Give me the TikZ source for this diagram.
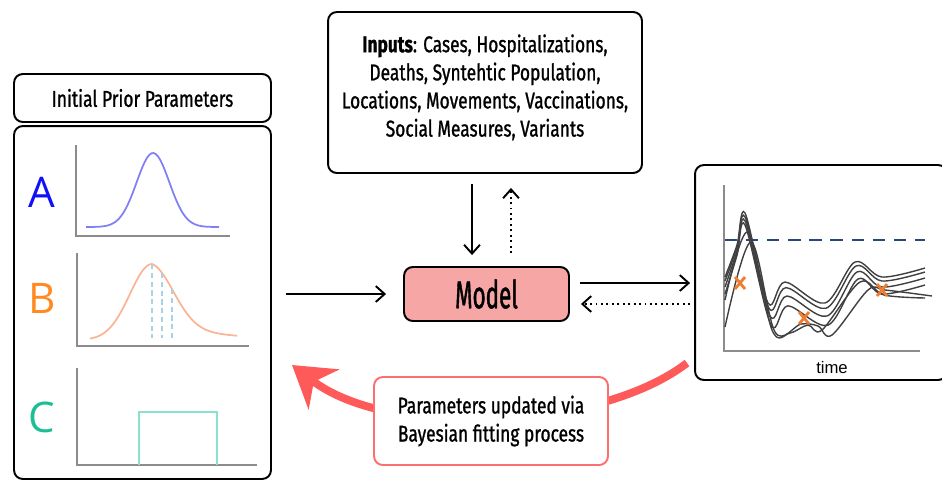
\documentclass[tikz,border=0pt]{standalone}
\usepackage{fontspec}
\setmainfont[FakeStretch=0.76,FakeBold=1]{Fira Sans}
\newfontfamily\modelfont[FakeStretch=0.58,FakeBold=1]{Fira Sans}
\newfontfamily\letterfont{Open Sans}
\newfontfamily\plotfont{Liberation Sans}
\usetikzlibrary{calc,arrows.meta}

\definecolor{distA}{HTML}{1010FA}
\definecolor{curveA}{HTML}{8080F6}
\definecolor{distB}{HTML}{FF8A22}
\definecolor{curveB}{HTML}{FAB597}
\definecolor{markB}{HTML}{A6D4E4}
\definecolor{distC}{HTML}{1CBF94}
\definecolor{curveC}{HTML}{88E2CC}
\definecolor{modelfill}{HTML}{F7A6A6}
\definecolor{fitred}{HTML}{FF5A5A}
\definecolor{fitborder}{HTML}{FF6E6E}
\definecolor{obscross}{HTML}{F07D2E}
\definecolor{threshold}{HTML}{27477F}
\definecolor{axisgray}{HTML}{8C8C8C}

\begin{document}
\begin{tikzpicture}[x=0.02cm,y=-0.02cm,
  box/.style={draw=black,line width=1.1pt,rounded corners=5pt,inner sep=0pt,align=center},
  axis/.style={axisgray,line width=0.9pt},
  flow/.style={line width=1.1pt,->,>={Straight Barb[length=5pt,width=9pt]}},
  back/.style={flow,dotted},
  letter/.style={font=\letterfont\fontsize{24}{28}\selectfont}]
  \useasboundingbox (0,0) rectangle (942,481);

  % priors
  \node[box,minimum width=5.14cm,minimum height=0.96cm,font=\fontsize{13}{16}\selectfont] (title) at (142.5,98) {Initial Prior Parameters};
  \node[box,minimum width=5.14cm,minimum height=7.06cm] (priors) at (142.5,302.5) {};

  \node[letter,distA] (A) at (42,192) {A};
  \draw[axis] (76,145) -- (76,236) -- (230,236);
  \draw[curveA,line width=1pt] plot[domain=86:219,samples=60] (\x,{227-74*exp(-((\x-153)/16.3)^2/2)});

  \node[letter,distB] (B) at (42,298) {B};
  \draw[axis] (77,253) -- (77,346) -- (249,346);
  \draw[curveB,line width=1pt] plot[domain=90:152,samples=40] (\x,{340-76*exp(-((\x-152)/22)^2/2)})
    -- plot[domain=152:237,samples=50] (\x,{340-56*exp(-((\x-152)/22)^2/2)-20*exp(-(\x-152)/55)});
  \foreach \xm/\ym in {152/264,162/273,172/289}
    \draw[markB,densely dashed,line width=0.6pt] (\xm,\ym) -- (\xm,338);

  \node[letter,distC] (C) at (42,417) {C};
  \draw[axis] (77,368) -- (77,465) -- (257,465);
  \draw[curveC,line width=1pt] (139,465) -- (139,412) -- (217,412) -- (217,465);

  % inputs and model
  \node[box,minimum width=6.28cm,minimum height=3.22cm,font=\fontsize{13}{16}\selectfont] (inputs) at (485,92.5)
    {\textbf{Inputs}: Cases, Hospitalizations,\\Deaths, Syntehtic Population,\\Locations, Movements, Vaccinations,\\Social Measures, Variants\\[-8pt]\mbox{}};
  \node[box,fill=modelfill,minimum width=3.3cm,minimum height=1.08cm,font=\modelfont\fontsize{22}{24}\selectfont] (model) at (486.5,294) {Model};

  % simulated trajectories
  \node[box,minimum width=5.04cm,minimum height=4.3cm] (traj) at (821,272.5) {};
  \draw[axis] (724,185) -- (724,351) -- (920,351);
  \node[font=\plotfont\fontsize{9.5}{11}\selectfont] (time) at (832,368) {time};
  \draw[threshold,line width=1.4pt,dash pattern=on 7pt off 5pt] (725,240) -- (925,240);
  \foreach \yoff/\shift in {0/0,1/4,2/10,3/17} {
    \draw[black!75,line width=0.8pt] plot[smooth,tension=0.55] coordinates
      {(725,277+\shift) (737,245+\shift*0.6) (745,213+\yoff*4) (768+\yoff,303+\shift*1.3) (785+\yoff,282+\shift*1.4) (825+\yoff,303+\shift*1.3) (855+\yoff,262+\shift) (882,277+\shift) (925,268+\shift)};
  }
  \draw[black!75,line width=0.8pt] plot[smooth,tension=0.55] coordinates
    {(725,327) (751,242) (775,332) (801,324) (818,326) (832,335) (868,290) (885,290) (932,296)};
  \draw[black!75,line width=0.8pt] plot[smooth,tension=0.55] coordinates
    {(725,300) (748,232) (772,330) (790,333) (808,325) (822,330) (860,282) (884,295) (925,298)};
  \foreach \cx/\cy in {740/283,804/318,882/290}
    \draw[obscross,line width=1.6pt] (\cx-5,\cy-6) -- (\cx+5,\cy+6) (\cx-5,\cy+6) -- (\cx+5,\cy-6);

  % flow
  \draw[flow,shorten <=0.2cm,shorten >=0.22cm] ([xshift=-0.26cm]inputs.south) -- ([xshift=-0.26cm]inputs.south |- model.north);
  \draw[back,shorten <=0.26cm,shorten >=0.28cm] ([xshift=0.52cm]inputs.south |- model.north) -- ([xshift=0.52cm]inputs.south);
  \draw[flow,shorten <=0.28cm,shorten >=0.34cm] (priors.east |- model.west) -- (model.west);
  \draw[flow,shorten <=0.2cm,shorten >=0.08cm] ([yshift=0.22cm]model.east) -- ([yshift=0.22cm]model.east -| traj.west);
  \draw[back,shorten <=0.08cm,shorten >=0.22cm] ([yshift=-0.2cm]model.east -| traj.west) -- ([yshift=-0.2cm]model.east);

  % fitting loop
  \coordinate (loopstart) at (687,363);
  \coordinate (looptip) at (292,365);
  \draw[fitred,line width=4.5pt,-{Stealth[length=0.8cm,width=1cm,inset=0.25cm]}]
    (loopstart) .. controls (600,430) and (390,440) .. (looptip);
  \node[box,draw=fitborder,fill=white,minimum width=4.68cm,minimum height=1.76cm,font=\fontsize{13}{16}\selectfont] (fit) at (491,421)
    {Parameters updated via\\Bayesian fitting process};
\end{tikzpicture}
\end{document}
